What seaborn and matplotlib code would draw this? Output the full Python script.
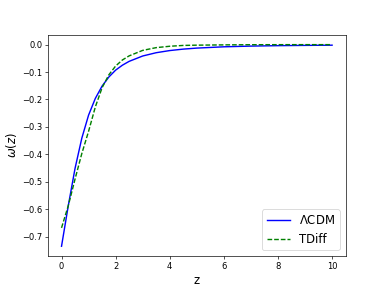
import numpy as np
import pandas as pd
import matplotlib
matplotlib.use("Agg")
import matplotlib.pyplot as plt
import seaborn as sns

# valores
z = [0.0, 0.25, 0.5, 0.75, 1.0, 1.25, 1.5, 1.75, 2.0, 2.25, 2.5, 3.0,
     3.5, 4.0, 4.5, 5.0, 6.0, 7.0, 8.0, 9.0, 10.0]
w_lcdm = [-0.735, -0.587, -0.451, -0.341, -0.257, -0.196, -0.151, -0.118,
          -0.093, -0.075, -0.061, -0.0415, -0.0295, -0.0217, -0.0164,
          -0.0127, -0.0080, -0.0054, -0.0038, -0.0028, -0.0021]
w_tdiff = [-0.668, -0.587, -0.490, -0.397, -0.316, -0.227, -0.157, -0.110,
           -0.078, -0.056, -0.041, -0.021, -0.011, -0.006, -0.003,
           -0.002, -0.001, -0.0004, -0.0002, -0.0001, -0.0001]

df = pd.DataFrame({"z": z, "lcdm": w_lcdm, "tdiff": w_tdiff})

fig, ax = plt.subplots(figsize=(6.4, 4.8), dpi=60)
sns.lineplot(data=df, x="z", y="lcdm", color="b", linestyle="-",
             linewidth=1.7, label=r"$\Lambda$CDM", ax=ax)
sns.lineplot(data=df, x="z", y="tdiff", color="g", linestyle=(0, (3.3, 1.4)),
             linewidth=1.7, label="TDiff", ax=ax)

ax.set_xlabel("z", fontsize=14)
ax.set_ylabel(r"$\omega(z)$", fontsize=14)
ax.legend(loc="lower right", fontsize=14)

fig.savefig("out.png", dpi=60)
